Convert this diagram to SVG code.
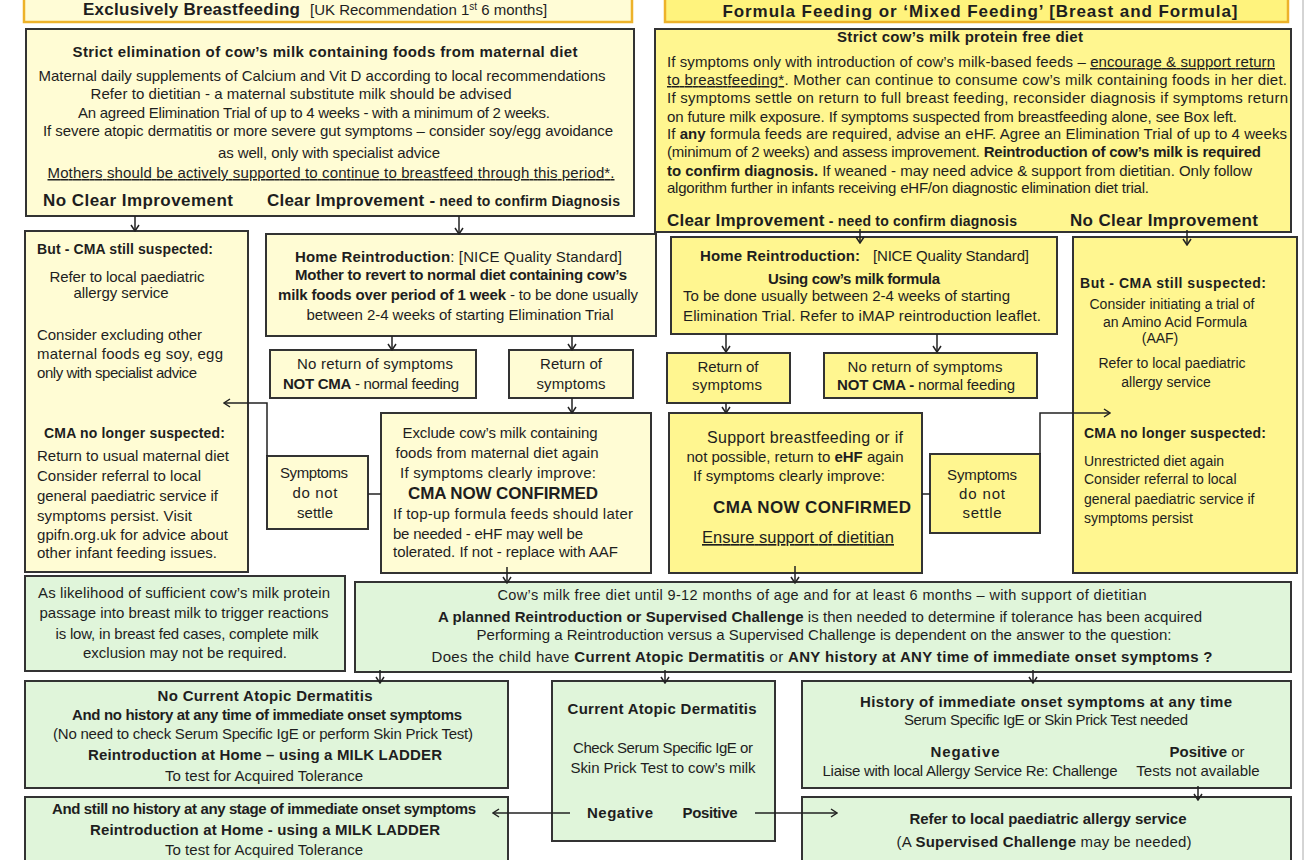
<svg xmlns="http://www.w3.org/2000/svg" width="1313" height="860" viewBox="0 0 1313 860">
<defs>
<style>
text{font-family:"Liberation Sans",Arial,sans-serif;font-size:15px;fill:#1e1e1e}
.b{font-weight:bold}
.c{text-anchor:middle}
.h{font-size:17px;font-weight:bold}
.s{font-size:14px}
.m{font-size:14px}
.sm{font-size:14.5px}
.l{font-size:16px}
.xl{font-size:16.5px}
.u{text-decoration:underline}
.bx{stroke:#333;stroke-width:2}
.y1{fill:#FFFCD4}
.y2{fill:#FFF690}
.g{fill:#E0F5DA}
.hd{stroke:#EDB22A;stroke-width:2.5}
.cn{fill:none;stroke:#222;stroke-width:1.5}
</style>
<marker id="ar" viewBox="0 0 8 10" refX="7" refY="5" markerWidth="8" markerHeight="10" markerUnits="userSpaceOnUse" orient="auto">
<path d="M1,1 L7,5 L1,9" fill="none" stroke="#222" stroke-width="1.5"/>
</marker>
</defs>
<rect width="1313" height="860" fill="#fff"/>
<line x1="1303" y1="0" x2="1303" y2="860" stroke="#aaa" stroke-width="1"/>

<g id="header-left">
<rect class="hd" x="24" y="-10" width="608" height="32" fill="#FFFCD6"/>
<text x="83" y="15"><tspan class="h" textLength="217">Exclusively Breastfeeding</tspan><tspan x="310">[UK Recommendation 1</tspan><tspan font-size="10" baseline-shift="super">st</tspan><tspan> 6 months]</tspan></text>
</g>
<g id="header-right">
<rect class="hd" x="665" y="-10" width="623" height="32" fill="#FFF37D"/>
<text class="h c" x="980" y="17" textLength="515">Formula Feeding or ‘Mixed Feeding’ [Breast and Formula]</text>
</g>

<g id="bf-elimination">
<rect class="bx y1" x="26" y="29" width="608" height="187"/>
<text class="b c" x="325" y="57" textLength="505">Strict elimination of cow’s milk containing foods from maternal diet</text>
<text class="c" x="322" y="81" textLength="567">Maternal daily supplements of Calcium and Vit D according to local recommendations</text>
<text class="c" x="301" y="99" textLength="421">Refer to dietitian - a maternal substitute milk should be advised</text>
<text class="c" x="314" y="118" textLength="472">An agreed Elimination Trial of up to 4 weeks - with a minimum of 2 weeks.</text>
<text class="c" x="328" y="136" textLength="570">If severe atopic dermatitis or more severe gut symptoms – consider soy/egg avoidance</text>
<text class="c" x="329" y="158" textLength="222">as well, only with specialist advice</text>
<text class="c u" x="331" y="178" textLength="567">Mothers should be actively supported to continue to breastfeed through this period*.</text>
<text class="h" x="43" y="206" textLength="190">No Clear Improvement</text>
<text x="267" y="206" textLength="353"><tspan class="h">Clear Improvement -</tspan><tspan class="b s"> need to confirm Diagnosis</tspan></text>
</g>

<g id="ff-elimination">
<rect class="bx y2" x="655" y="29" width="636" height="203"/>
<text class="b c" x="960" y="42" textLength="246">Strict cow’s milk protein free diet</text>
<text x="667" y="67" textLength="608">If symptoms only with introduction of cow’s milk-based feeds – <tspan class="u">encourage &amp; support return</tspan></text>
<text x="667" y="85" textLength="620"><tspan class="u">to breastfeeding*</tspan>. Mother can continue to consume cow’s milk containing foods in her diet.</text>
<text x="667" y="103" textLength="621">If symptoms settle on return to full breast feeding, reconsider diagnosis if symptoms return</text>
<text x="667" y="122" textLength="570">on future milk exposure. If symptoms suspected from breastfeeding alone, see Box left.</text>
<text x="667" y="139" textLength="620">If <tspan class="b">any</tspan> formula feeds are required, advise an eHF. Agree an Elimination Trial of up to 4 weeks</text>
<text x="667" y="157" textLength="594">(minimum of 2 weeks) and assess improvement. <tspan class="b">Reintroduction of cow’s milk is required</tspan></text>
<text x="667" y="176" textLength="585"><tspan class="b">to confirm diagnosis.</tspan> If weaned - may need advice &amp; support from dietitian. Only follow</text>
<text x="667" y="193" textLength="482">algorithm further in infants receiving eHF/on diagnostic elimination diet trial.</text>
<text x="667" y="226" textLength="350"><tspan class="h">Clear Improvement</tspan><tspan class="b s"> - need to confirm diagnosis</tspan></text>
<text class="h" x="1070" y="226" textLength="188">No Clear Improvement</text>
</g>

<g id="bf-cma-suspected">
<rect class="bx y1" x="25" y="231" width="223" height="341"/>
<text class="b s" x="37" y="254" textLength="176">But - CMA still suspected:</text>
<text class="c" x="127" y="282" textLength="155">Refer to local paediatric</text>
<text class="c" x="121" y="298" textLength="95">allergy service</text>
<text x="37" y="340" textLength="165">Consider excluding other</text>
<text x="37" y="359" textLength="186">maternal foods eg soy, egg</text>
<text x="37" y="378" textLength="160">only with specialist advice</text>
<text class="b s" x="44" y="438" textLength="181">CMA no longer suspected:</text>
<text x="37" y="461" textLength="192">Return to usual maternal diet</text>
<text x="37" y="481" textLength="164">Consider referral to local</text>
<text x="37" y="501" textLength="181">general paediatric service if</text>
<text x="37" y="521" textLength="155">symptoms persist. Visit</text>
<text x="37" y="540" textLength="191">gpifn.org.uk for advice about</text>
<text x="37" y="558" textLength="180">other infant feeding issues.</text>
</g>

<g id="bf-home-reintro">
<rect class="bx y1" x="266" y="234" width="390" height="102"/>
<text x="295" y="262" textLength="327"><tspan class="b">Home Reintroduction</tspan>:   [NICE Quality Standard]</text>
<text class="b c" x="461" y="280" textLength="332">Mother to revert to normal diet containing cow’s</text>
<text class="c" x="458" y="300" textLength="360"><tspan class="b">milk foods over period of 1 week</tspan> - to be done usually</text>
<text class="c" x="460" y="320" textLength="307">between 2-4 weeks of starting Elimination Trial</text>
</g>

<g id="bf-no-return">
<rect class="bx y1" x="270" y="350" width="206" height="48"/>
<text class="c" x="375" y="369" textLength="156">No return of symptoms</text>
<text class="c" x="371" y="389" textLength="176"><tspan class="b">NOT CMA</tspan> - normal feeding</text>
</g>

<g id="bf-return">
<rect class="bx y1" x="509" y="350" width="124" height="48"/>
<text class="c" x="571" y="369" textLength="62">Return of</text>
<text class="c" x="571" y="389" textLength="69">symptoms</text>
</g>

<g id="bf-exclude">
<rect class="bx y1" x="381" y="413" width="270" height="160"/>
<text class="c" x="500" y="438" textLength="195">Exclude cow’s milk containing</text>
<text class="c" x="497" y="458" textLength="203">foods from maternal diet again</text>
<text class="c" x="498" y="478" textLength="196">If symptoms clearly improve:</text>
<text class="h c" x="503" y="499" textLength="190">CMA NOW CONFIRMED</text>
<text x="393" y="519" textLength="240">If top-up formula feeds should later</text>
<text x="393" y="539" textLength="190">be needed - eHF may well be</text>
<text x="393" y="557" textLength="225">tolerated. If not - replace with AAF</text>
</g>

<g id="bf-not-settle">
<rect class="bx y1" x="267" y="456" width="101" height="73"/>
<text class="c" x="314" y="478" textLength="68">Symptoms</text>
<text class="c" x="315" y="498" textLength="45">do not</text>
<text class="c" x="315" y="518" textLength="36">settle</text>
</g>

<g id="ff-home-reintro">
<rect class="bx y2" x="671" y="237" width="386" height="97"/>
<text class="b" x="700" y="261" textLength="160">Home Reintroduction:</text>
<text x="873" y="261" textLength="156">[NICE Quality Standard]</text>
<text class="b c" x="854" y="284" textLength="172">Using cow’s milk formula</text>
<text x="683" y="301" textLength="327">To be done usually between 2-4 weeks of starting</text>
<text x="683" y="321" textLength="358">Elimination Trial. Refer to iMAP reintroduction leaflet.</text>
</g>

<g id="ff-return">
<rect class="bx y2" x="667" y="353" width="123" height="50"/>
<text class="c" x="728" y="372" textLength="61">Return of</text>
<text class="c" x="727" y="390" textLength="70">symptoms</text>
</g>

<g id="ff-no-return">
<rect class="bx y2" x="824" y="353" width="213" height="45"/>
<text class="c" x="925" y="372" textLength="155">No return of symptoms</text>
<text class="c" x="926" y="390" textLength="178"><tspan class="b">NOT CMA -</tspan> normal feeding</text>
</g>

<g id="ff-cma-suspected">
<rect class="bx y2" x="1073" y="237" width="224" height="336"/>
<text class="b s c" x="1173" y="288" textLength="186">But - CMA still suspected:</text>
<text class="m c" x="1172" y="309">Consider initiating a trial of</text>
<text class="m c" x="1175" y="327">an Amino Acid Formula</text>
<text class="m c" x="1160" y="343">(AAF)</text>
<text class="m c" x="1172" y="368">Refer to local paediatric</text>
<text class="m c" x="1166" y="387">allergy service</text>
<text class="b s" x="1084" y="438" textLength="182">CMA no longer suspected:</text>
<text class="m" x="1084" y="466">Unrestricted diet again</text>
<text class="m" x="1084" y="484">Consider referral to local</text>
<text class="m" x="1084" y="504">general paediatric service if</text>
<text class="m" x="1084" y="523">symptoms persist</text>
</g>

<g id="ff-support">
<rect class="bx y2" x="669" y="413" width="253" height="160"/>
<text class="l c" x="805" y="443" textLength="196">Support breastfeeding or if</text>
<text class="c" x="795" y="462" textLength="217">not possible, return to <tspan class="b">eHF</tspan> again</text>
<text class="c" x="789" y="481" textLength="192">If symptoms clearly improve:</text>
<text class="h c" x="812" y="513" textLength="198">CMA NOW CONFIRMED</text>
<text class="xl c u" x="798" y="543" textLength="192">Ensure support of dietitian</text>
</g>

<g id="ff-not-settle">
<rect class="bx y2" x="930" y="454" width="110" height="79"/>
<text class="c" x="982" y="480" textLength="70">Symptoms</text>
<text class="c" x="982" y="499" textLength="46">do not</text>
<text class="c" x="982" y="518" textLength="39">settle</text>
</g>

<g id="note-breastfed">
<rect class="bx g" x="25" y="576" width="320" height="95"/>
<text class="c" x="184" y="598" textLength="292">As likelihood of sufficient cow’s milk protein</text>
<text class="c" x="184" y="618" textLength="289">passage into breast milk to trigger reactions</text>
<text class="c" x="187" y="639" textLength="263">is low, in breast fed cases, complete milk</text>
<text class="c" x="185" y="658" textLength="204">exclusion may not be required.</text>
</g>

<g id="milk-free-diet">
<rect class="bx g" x="355" y="582" width="936" height="90"/>
<text class="sm c" x="822" y="600" textLength="649">Cow’s milk free diet until 9-12 months of age and for at least 6 months – with support of dietitian</text>
<text class="c" x="820" y="622" textLength="764"><tspan class="b">A planned Reintroduction or Supervised Challenge</tspan> is then needed to determine if tolerance has been acquired</text>
<text class="c" x="824" y="640" textLength="695">Performing a Reintroduction versus a Supervised Challenge is dependent on the answer to the question:</text>
<text class="c" x="822" y="662" textLength="781">Does the child have <tspan class="b">Current Atopic Dermatitis</tspan> or <tspan class="b">ANY history at ANY time of immediate onset symptoms ?</tspan></text>
</g>

<g id="no-atopic">
<rect class="bx g" x="25" y="681" width="483" height="107"/>
<text class="b c" x="265" y="701" textLength="215">No Current Atopic Dermatitis</text>
<text class="b c" x="267" y="720" textLength="390">And no history at any time of immediate onset symptoms</text>
<text class="c" x="263" y="739" textLength="420">(No need to check Serum Specific IgE or perform Skin Prick Test)</text>
<text class="b c" x="265" y="760" textLength="354">Reintroduction at Home – using a MILK LADDER</text>
<text class="c" x="264" y="781" textLength="198">To test for Acquired Tolerance</text>
</g>

<g id="still-no-history">
<rect class="bx g" x="25" y="797" width="483" height="72"/>
<text class="b c" x="264" y="814" textLength="424">And still no history at any stage of immediate onset symptoms</text>
<text class="b c" x="265" y="835" textLength="350">Reintroduction at Home - using a MILK LADDER</text>
<text class="c" x="264" y="855" textLength="198">To test for Acquired Tolerance</text>
</g>

<g id="current-atopic">
<rect class="bx g" x="552" y="681" width="223" height="160"/>
<text class="b c" x="662" y="714" textLength="189">Current Atopic Dermatitis</text>
<text class="c" x="663" y="753" textLength="180">Check Serum Specific IgE or</text>
<text class="c" x="663" y="773" textLength="185">Skin Prick Test to cow’s milk</text>
<text class="b c" x="620" y="818" textLength="66">Negative</text>
<text class="b c" x="710" y="818" textLength="55">Positive</text>
</g>

<g id="history-immediate">
<rect class="bx g" x="802" y="681" width="489" height="107"/>
<text class="b c" x="1046" y="707" textLength="372">History of immediate onset symptoms at any time</text>
<text class="c" x="1046" y="725" textLength="284">Serum Specific IgE or Skin Prick Test needed</text>
<text class="b c" x="965" y="757" textLength="69">Negative</text>
<text class="c" x="970" y="776" textLength="295">Liaise with local Allergy Service Re: Challenge</text>
<text class="c" x="1207" y="757" textLength="75"><tspan class="b">Positive</tspan> or</text>
<text class="c" x="1198" y="776">Tests not available</text>
</g>

<g id="refer-allergy">
<rect class="bx g" x="802" y="797" width="489" height="72"/>
<text class="b c" x="1048" y="824" textLength="277">Refer to local paediatric allergy service</text>
<text class="c" x="1044" y="847" textLength="295">(A <tspan class="b">Supervised Challenge</tspan> may be needed)</text>
</g>

<g id="connectors">
<path class="cn" d="M135,216 V231" marker-end="url(#ar)"/>
<path class="cn" d="M459,216 V234" marker-end="url(#ar)"/>
<path class="cn" d="M392,336 V350" marker-end="url(#ar)"/>
<path class="cn" d="M572,336 V350" marker-end="url(#ar)"/>
<path class="cn" d="M572,398 V413" marker-end="url(#ar)"/>
<path class="cn" d="M381,494 H368"/>
<path class="cn" d="M267,456 V403 H224" marker-end="url(#ar)"/>
<path class="cn" d="M860,229 V243" marker-end="url(#ar)"/>
<path class="cn" d="M1187,230 V245" marker-end="url(#ar)"/>
<path class="cn" d="M726,334 V352" marker-end="url(#ar)"/>
<path class="cn" d="M937,334 V352" marker-end="url(#ar)"/>
<path class="cn" d="M726,403 V413" marker-end="url(#ar)"/>
<path class="cn" d="M922,494 H930"/>
<path class="cn" d="M1040,454 V413 H1110" marker-end="url(#ar)"/>
<path class="cn" d="M507,567 V583" marker-end="url(#ar)"/>
<path class="cn" d="M795,566 V583" marker-end="url(#ar)"/>
<path class="cn" d="M380,670 V683" marker-end="url(#ar)"/>
<path class="cn" d="M665,670 V683" marker-end="url(#ar)"/>
<path class="cn" d="M1033,670 V683" marker-end="url(#ar)"/>
<path class="cn" d="M570,813 H493" marker-end="url(#ar)"/>
<path class="cn" d="M755,813 H837" marker-end="url(#ar)"/>
<path class="cn" d="M1198,786 V800" marker-end="url(#ar)"/>
</g>
</svg>
